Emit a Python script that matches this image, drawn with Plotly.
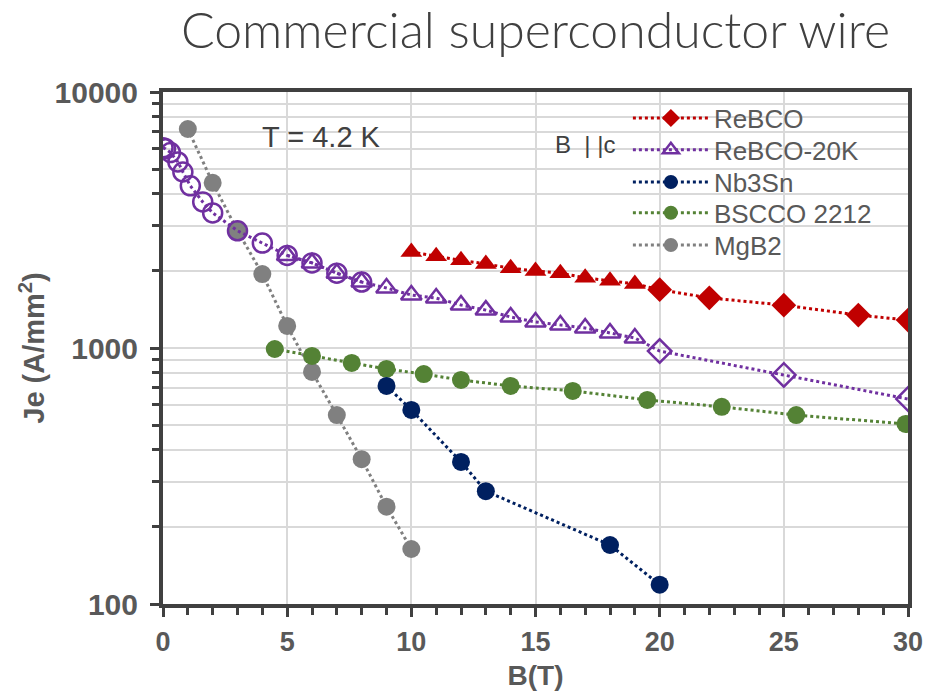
import plotly.graph_objects as go

# ---------------- data ----------------
rebco_B = [10, 11, 12, 13, 14, 15, 16, 17, 18, 19, 20, 22, 25, 28, 30]
rebco_J = [2370, 2280, 2200, 2130, 2050, 2000, 1960, 1880, 1830, 1780, 1690, 1570, 1470, 1345, 1285]
rebco_sym = ["triangle-up"] * 10 + ["diamond"] * 5

r20_circ_B = [0.0, 0.1, 0.3, 0.6, 0.8, 1.1, 1.6, 2.0, 3.0, 4.0, 5.0, 6.0, 7.0, 8.0]
r20_circ_J = [6050, 6000, 5800, 5330, 4870, 4300, 3720, 3370, 2870, 2570, 2300, 2150, 1960, 1810]
r20_B = [5, 6, 7, 8, 9, 10, 11, 12, 13, 14, 15, 16, 17, 18, 19, 20, 25, 30]
r20_J = [2300, 2150, 1960, 1810, 1715, 1610, 1567, 1472, 1406, 1321, 1264, 1230, 1197, 1145, 1094, 973, 785, 632]
r20_sym = ["triangle-up-open"] * 15 + ["diamond-open"] * 3

nb3sn_B = [9, 10, 12, 13, 18, 20]
nb3sn_J = [711, 573, 359, 276, 170, 119]

bscco_B = [4.5, 6.0, 7.6, 9.0, 10.5, 12.0, 14.0, 16.5, 19.5, 22.5, 25.5, 29.9]
bscco_J = [991, 931, 874, 828, 791, 750, 711, 680, 627, 589, 547, 505]

mgb2_B = [1, 2, 3, 4, 5, 6, 7, 8, 9, 10]
mgb2_J = [7170, 4420, 2870, 1945, 1220, 806, 547, 368, 240, 164]

names = ["ReBCO", "ReBCO-20K", "Nb3Sn", "BSCCO 2212", "MgB2"]
colors = ["#C00000", "#7030A0", "#002060", "#548235", "#808080"]
legend_sym = ["diamond", "triangle-up-open", "circle", "circle", "circle"]

ytick_vals = [100, 1000, 10000]
ytick_text = ["100", "1000", "10000"]

fig = go.Figure()

def line(width=3, color="#000"):
    return dict(color=color, width=width, dash="dot")

# MgB2
fig.add_trace(go.Scatter(x=mgb2_B, y=mgb2_J, mode="lines+markers", showlegend=False,
                         line=line(3, colors[4]),
                         marker=dict(symbol="circle", size=18, color=colors[4])))
# ReBCO-20K circles
fig.add_trace(go.Scatter(x=r20_circ_B, y=r20_circ_J, mode="lines+markers", showlegend=False,
                         line=line(3, colors[1]),
                         marker=dict(symbol="circle-open", size=19, color=colors[1],
                                     line=dict(width=2.5, color=colors[1]))))
# ReBCO-20K triangles / diamonds
fig.add_trace(go.Scatter(x=r20_B, y=r20_J, mode="lines+markers", showlegend=False,
                         line=line(3, colors[1]),
                         marker=dict(symbol=r20_sym, size=18, color=colors[1],
                                     line=dict(width=2.5, color=colors[1]))))
# BSCCO
fig.add_trace(go.Scatter(x=bscco_B, y=bscco_J, mode="lines+markers", showlegend=False,
                         line=line(3, colors[3]),
                         marker=dict(symbol="circle", size=18, color=colors[3])))
# Nb3Sn
fig.add_trace(go.Scatter(x=nb3sn_B, y=nb3sn_J, mode="lines+markers", showlegend=False,
                         line=line(3, colors[2]),
                         marker=dict(symbol="circle", size=18, color=colors[2])))
# ReBCO
fig.add_trace(go.Scatter(x=rebco_B, y=rebco_J, mode="lines+markers", showlegend=False,
                         line=line(3, colors[0]),
                         marker=dict(symbol=rebco_sym, size=19, color=colors[0])))

# legend entries (one legend per entry to control spacing)
legend_ids = ["legend", "legend2", "legend3", "legend4", "legend5"]
legend_y = [0.949, 0.887, 0.824, 0.764, 0.701]
for n, c, s, lid in zip(names, colors, legend_sym, legend_ids):
    fig.add_trace(go.Scatter(x=[None], y=[None], mode="lines+markers", name=n, legend=lid,
                             line=line(3, c),
                             marker=dict(symbol=s, size=14, color=c,
                                         line=dict(width=2.5, color=c) if "open" in s else dict(width=0))))

grid = "#D9D9D9"
axcol = "#404040"
xtickfont = dict(family="Liberation Sans, Arial", size=27, color="#595959", weight="bold")
ytickfont = dict(family="Liberation Sans, Arial", size=30, color="#595959", weight="bold")

leg_common = dict(x=0.624, xanchor="left", yanchor="middle", bgcolor="rgba(0,0,0,0)",
                  font=dict(family="Liberation Sans, Arial", size=26, color="#595959"),
                  itemwidth=76)
legends = {}
for lid, ly in zip(legend_ids, legend_y):
    legends[lid] = dict(leg_common, y=ly)

fig.update_layout(
    width=928, height=698,
    margin=dict(l=163, r=20, t=92, b=94),
    paper_bgcolor="white", plot_bgcolor="white",
    title=dict(text="Commercial superconductor wire", x=0.577, xanchor="center",
               y=0.957, yanchor="middle",
               font=dict(family="Lato, Open Sans", size=50, color="#404040", weight=300)),
    xaxis=dict(range=[0, 30], dtick=5, tick0=0, showgrid=True, gridcolor=grid, gridwidth=1.5,
               showline=True, linecolor=axcol, linewidth=4, mirror=True, automargin=False,
               ticks="outside", ticklen=9, tickwidth=3, tickcolor=axcol,
               minor=dict(dtick=1, ticks="outside", ticklen=7, tickwidth=3, tickcolor=axcol, showgrid=False),
               tickfont=xtickfont, ticklabelstandoff=2, zeroline=False,
               title=dict(text="B(T)", standoff=10,
                          font=dict(family="Liberation Sans, Arial", size=28, color="#595959", weight="bold"))),
    yaxis=dict(type="log", range=[2, 4], tickvals=ytick_vals, ticktext=ytick_text,
               showgrid=True, gridcolor=grid, gridwidth=1.5,
               showline=True, linecolor=axcol, linewidth=4, mirror=True, automargin=False,
               ticks="outside", ticklen=9, tickwidth=3, tickcolor=axcol,
               minor=dict(dtick="D1", ticks="outside", ticklen=7, tickwidth=3, tickcolor=axcol,
                          showgrid=True, gridcolor=grid, gridwidth=1.5),
               tickfont=ytickfont, ticklabelstandoff=6, zeroline=False,
               title=dict(text="Je (A/mm<sup>2</sup>)", standoff=2,
                          font=dict(family="Liberation Sans, Arial", size=29, color="#595959", weight="bold"))),
    annotations=[
        dict(text="T = 4.2 K", xref="paper", yref="paper", x=0.2134, y=0.912, xanchor="center",
             yanchor="middle", showarrow=False,
             font=dict(family="Liberation Sans, Arial", size=29, color="#404040")),
        dict(text="B  | |c", xref="paper", yref="paper", x=0.566, y=0.8965, xanchor="center",
             yanchor="middle", showarrow=False,
             font=dict(family="Liberation Sans, Arial", size=24, color="#404040")),
    ],
    **legends,
)

fig.write_html("out.html")
